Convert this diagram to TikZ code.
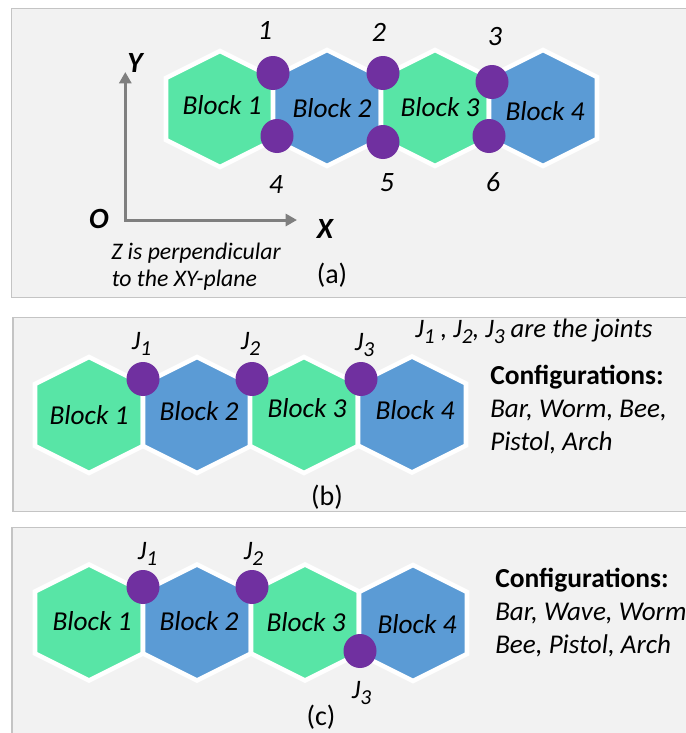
\documentclass[tikz,border=0pt]{standalone}
\usepackage{fontspec}
\setmainfont{Carlito}
\usetikzlibrary{arrows.meta,shapes.geometric}

\definecolor{hexgreen}{HTML}{58E5A6}
\definecolor{hexblue}{HTML}{5B9BD5}
\definecolor{jointpurple}{HTML}{7030A0}
\definecolor{panelbg}{HTML}{F2F2F2}
\definecolor{panelline}{HTML}{C4C4C4}
\definecolor{axisgray}{HTML}{7F7F7F}

% one hexagonal block: centre x, centre y, fill colour
\newcommand\hexat[3]{%
  \draw[hexline, fill=#3, shift={(#1,#2)}]
    (0,-58) -- (54,-31) -- (54,31) -- (0,58) -- (-54,31) -- (-54,-31) -- cycle;}
% joint index written below the J
\newcommand\jsub[1]{\raisebox{-4.5pt}{\fontsize{16}{18}\selectfont #1}}

\begin{document}
\begin{tikzpicture}[x=0.75pt,y=-0.75pt,
  panel/.style={fill=panelbg, draw=panelline, line width=0.8pt},
  hexline/.style={draw=white, line width=3.4pt, line join=miter},
  joint/.style={ellipse, fill=jointpurple, minimum width=24.75pt, minimum height=25.5pt, inner sep=0pt},
  blocklbl/.style={font=\fontsize{20.5}{24}\selectfont\itshape, inner sep=0pt},
  numlbl/.style={font=\fontsize{21}{25}\selectfont\itshape, inner sep=0pt},
  axislbl/.style={font=\fontsize{22}{26}\selectfont\bfseries\itshape, inner sep=0pt},
  jlbl/.style={font=\fontsize{20}{24}\selectfont\itshape, inner sep=0pt, anchor=base west},
  note/.style={font=\fontsize{17.8}{21}\selectfont\itshape, inner sep=0pt, anchor=base west},
  cfghead/.style={font=\fontsize{20.6}{24}\selectfont\bfseries, inner sep=0pt, anchor=base west},
  cfgtext/.style={font=\fontsize{20.3}{24}\selectfont\itshape, inner sep=0pt, anchor=base west},
  caption/.style={font=\fontsize{21}{25}\selectfont, inner sep=0pt},
  axisline/.style={draw=axisgray, line width=2.25pt, line join=miter,
    arrows={Triangle[length=8.5pt,width=9pt]-Triangle[length=8.5pt,width=9pt]}}]

\useasboundingbox (0,0) rectangle (686,733);
\fill[white] (0,0) rectangle (686,733);

\begin{scope}
\clip (0,0) rectangle (686,733);

% ---------------- panel (a) ----------------
\draw[panel] (11.5,8.5) rectangle (700,297.5);
\hexat{220}{109}{hexgreen}
\hexat{327}{108}{hexblue}
\hexat{435}{108}{hexgreen}
\hexat{543}{108}{hexblue}
\node[blocklbl] (a-b1) at (222,105) {Block 1};
\node[blocklbl] (a-b2) at (332,108) {Block 2};
\node[blocklbl] (a-b3) at (440,107) {Block 3};
\node[blocklbl] (a-b4) at (545,111) {Block 4};
\node[joint] (a-j1) at (273,73) {};
\node[joint] (a-j2) at (383,73) {};
\node[joint] (a-j3) at (492,82) {};
\node[joint] (a-j4) at (277,136) {};
\node[joint] (a-j5) at (383,142) {};
\node[joint] (a-j6) at (489,136) {};
\node[numlbl] (a-n1) at (265,30) {1};
\node[numlbl] (a-n2) at (379,32) {2};
\node[numlbl] (a-n3) at (495,37) {3};
\node[numlbl] (a-n4) at (276,185) {4};
\node[numlbl] (a-n5) at (387,183) {5};
\node[numlbl] (a-n6) at (493,182) {6};

% coordinate axes
\coordinate (orig) at (125.3,220);
\coordinate (ytip) at (125.3,72);
\coordinate (xtip) at (297,220);
\draw[axisline] (ytip) -- (orig) -- (xtip);
\node[axislbl] (lbl-y) at (135,63) {Y};
\node[axislbl] (lbl-o) at (99,219) {O};
\node[axislbl] (lbl-x) at (325,229) {X};
\node[note] (znote1) at (111,259.3) {Z is perpendicular};
\node[note] (znote2) at (111.5,286.7) {to the XY-plane};
\node[caption] (cap-a) at (332,275) {(a)};

% ---------------- panel (b) ----------------
\draw[panel] (13,317.5) rectangle (700,511.5);
\hexat{89}{415}{hexgreen}
\hexat{197}{415}{hexblue}
\hexat{304}{415}{hexgreen}
\hexat{412}{414.5}{hexblue}
\node[blocklbl] (b-b1) at (89,415) {Block 1};
\node[blocklbl] (b-b2) at (199,411) {Block 2};
\node[blocklbl] (b-b3) at (307,408) {Block 3};
\node[blocklbl] (b-b4) at (415,410) {Block 4};
\node[joint] (b-j1) at (143,379) {};
\node[joint] (b-j2) at (252,379) {};
\node[joint] (b-j3) at (361,379) {};
\node[jlbl] (b-l1) at (131.5,349.3) {J\jsub{1}};
\node[jlbl] (b-l2) at (240.5,349.3) {J\jsub{2}};
\node[jlbl] (b-l3) at (354.5,350) {J\jsub{3}};
\node[jlbl] (b-note) at (415,337) {J\jsub{1} , J\jsub{2}, J\jsub{3} are the joints};
\node[cfghead] (b-cfg) at (490,384) {Configurations:};
\node[cfgtext] (b-c1) at (490,417.5) {Bar, Worm, Bee,};
\node[cfgtext] (b-c2) at (490,450.5) {Pistol, Arch};
\node[caption] (cap-b) at (327,497) {(b)};

% ---------------- panel (c) ----------------
\draw[panel] (12,527.5) rectangle (700,760);
\hexat{89}{622.5}{hexgreen}
\hexat{197}{622.5}{hexblue}
\hexat{305}{622.5}{hexgreen}
\hexat{413}{623}{hexblue}
\node[blocklbl] (c-b1) at (92,621) {Block 1};
\node[blocklbl] (c-b2) at (199,621) {Block 2};
\node[blocklbl] (c-b3) at (306,622) {Block 3};
\node[blocklbl] (c-b4) at (417,624) {Block 4};
\node[joint] (c-j1) at (143,587) {};
\node[joint] (c-j2) at (252,587) {};
\node[joint] (c-j3) at (360,651) {};
\node[jlbl] (c-l1) at (137.5,559.3) {J\jsub{1}};
\node[jlbl] (c-l2) at (243.5,559.3) {J\jsub{2}};
\node[jlbl] (c-l3) at (351.5,698.3) {J\jsub{3}};
\node[cfghead] (c-cfg) at (495,587.7) {Configurations:};
\node[cfgtext] (c-c1) at (495,620.7) {Bar, Wave, Worm};
\node[cfgtext] (c-c2) at (495,653.3) {Bee, Pistol, Arch};
\node[caption] (cap-c) at (321,717) {(c)};
\end{scope}
\end{tikzpicture}
\end{document}
